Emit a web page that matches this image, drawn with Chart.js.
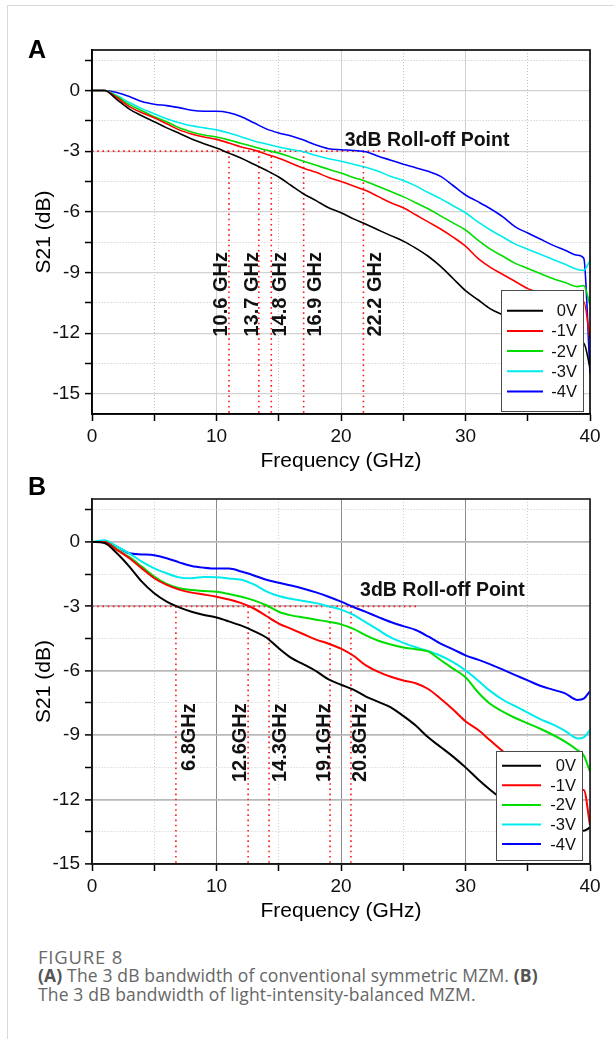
<!DOCTYPE html>
<html>
<head>
<meta charset="utf-8">
<title>Figure 8</title>
<script src="https://cdn.jsdelivr.net/npm/chart.js@4.4.1/dist/chart.umd.min.js"></script>
<style>
  html, body { margin: 0; padding: 0; background: #fff; }
  body { width: 614px; height: 1039px; position: relative; overflow: hidden; }
  .frame { position: absolute; left: 7px; top: 5px; width: 700px; height: 1100px;
           border-left: 1px solid #d9d9d9; border-top: 1px solid #d9d9d9; }
  .box { position: absolute; left: 0; width: 614px; }
  .panel { position: absolute; left: 28px; font: bold 25px/1 "Liberation Sans", Arial, sans-serif; color: #000; }
  .caption { position: absolute; left: 38px; top: 947px; font-family: "Open Sans", sans-serif;
             font-size: 17.5px; line-height: 19px; color: #666; letter-spacing: 0.15px; }
  .caption .fig { color: #6a6a6a; font-size: 18.5px; letter-spacing: 0.8px; }
  .caption b { color: #555; }
</style>
</head>
<body>
<div class="frame"></div>
<div class="box" style="top:0;height:480px"><canvas id="chartA" width="614" height="480"></canvas></div>
<div class="box" style="top:460px;height:470px"><canvas id="chartB" width="614" height="470"></canvas></div>
<div class="panel" style="top:37px">A</div>
<div class="panel" style="top:474px">B</div>
<div class="caption">
  <div class="fig">FIGURE 8</div>
  <div><b>(A)</b> The 3 dB bandwidth of conventional symmetric MZM. <b>(B)</b></div>
  <div>The 3 dB bandwidth of light-intensity-balanced MZM.</div>
</div>
<script>
// frequency axis (GHz), shared by every curve
const freq = [0, 1, 2, 3, 4, 5, 6, 7, 8, 9, 10, 11, 12, 13, 14, 15, 16, 17, 18, 19,
  20, 21, 22, 23, 24, 25, 26, 27, 28, 29, 30, 31, 32, 33, 34, 35, 36, 37, 38, 39, 39.5, 40];
const voltages = ["0V", "-1V", "-2V", "-3V", "-4V"];

// (A) conventional symmetric MZM, S21 in dB
const a0V = [0, 0, -0.45, -0.92, -1.25, -1.55, -1.85, -2.12, -2.4, -2.63, -2.85, -3.1, -3.35, -3.65, -3.95, -4.28, -4.7, -5.12, -5.45, -5.8,
  -6.05, -6.35, -6.62, -6.9, -7.18, -7.45, -7.8, -8.2, -8.7, -9.3, -9.9, -10.35, -10.8, -11.1, -11.4, -11.65, -11.9, -12.1, -12.3, -12.45, -12.5, -13.7];
const a1V = [0, 0, -0.35, -0.8, -1.1, -1.35, -1.65, -1.95, -2.15, -2.3, -2.42, -2.6, -2.8, -2.95, -3.15, -3.35, -3.6, -3.85, -4.05, -4.3,
  -4.5, -4.72, -4.95, -5.25, -5.55, -5.8, -6.15, -6.5, -6.85, -7.25, -7.7, -8.3, -8.75, -9.1, -9.45, -9.8, -10.0, -10.2, -10.35, -10.45, -10.45, -12.3];
const a2V = [0, 0, -0.3, -0.7, -1.0, -1.3, -1.55, -1.85, -2.05, -2.2, -2.3, -2.45, -2.62, -2.78, -2.95, -3.1, -3.3, -3.5, -3.7, -3.9,
  -4.08, -4.3, -4.5, -4.75, -5.0, -5.25, -5.55, -5.85, -6.2, -6.55, -6.9, -7.4, -7.85, -8.2, -8.55, -8.8, -9.05, -9.3, -9.5, -9.7, -9.65, -10.6];
const a3V = [0, 0, -0.25, -0.6, -0.9, -1.15, -1.4, -1.6, -1.75, -1.85, -1.95, -2.1, -2.3, -2.5, -2.65, -2.8, -2.92, -3.03, -3.22, -3.38,
  -3.5, -3.65, -3.8, -4.0, -4.25, -4.45, -4.72, -5.05, -5.35, -5.7, -6.05, -6.5, -6.9, -7.25, -7.6, -7.85, -8.1, -8.35, -8.6, -8.85, -8.9, -8.4];
const a4V = [0, 0, -0.1, -0.3, -0.55, -0.68, -0.75, -0.85, -0.98, -1.03, -1.03, -1.1, -1.3, -1.6, -1.9, -2.1, -2.25, -2.45, -2.7, -2.88,
  -2.93, -2.97, -3.03, -3.25, -3.45, -3.65, -3.82, -4.0, -4.25, -4.7, -5.17, -5.5, -5.85, -6.25, -6.75, -7.05, -7.35, -7.65, -7.9, -8.15, -8.3, -14.0];

// (B) light-intensity-balanced MZM, S21 in dB
const b0V = [0, -0.05, -0.53, -1.15, -1.85, -2.39, -2.78, -3.05, -3.25, -3.4, -3.52, -3.7, -3.9, -4.15, -4.45, -4.95, -5.4, -5.7, -6.02, -6.4,
  -6.65, -6.88, -7.2, -7.45, -7.7, -8.1, -8.55, -9.1, -9.55, -10.0, -10.5, -11.05, -11.55, -12.0, -12.4, -12.75, -13.0, -13.2, -13.35, -13.4, -13.45, -13.3];
const b1V = [0, 0, -0.37, -0.76, -1.23, -1.69, -2.0, -2.22, -2.36, -2.45, -2.55, -2.68, -2.85, -3.1, -3.45, -3.8, -4.05, -4.3, -4.55, -4.74,
  -4.97, -5.3, -5.75, -6.05, -6.28, -6.45, -6.58, -6.85, -7.3, -7.8, -8.35, -8.75, -9.25, -9.75, -10.25, -10.65, -10.95, -11.2, -11.4, -11.55, -11.55, -13.2];
const b2V = [0, 0, -0.34, -0.71, -1.15, -1.61, -1.96, -2.16, -2.24, -2.28, -2.32, -2.42, -2.55, -2.72, -2.95, -3.25, -3.42, -3.52, -3.62, -3.72,
  -3.84, -4.05, -4.35, -4.6, -4.78, -4.92, -5.0, -5.1, -5.5, -5.9, -6.3, -7.0, -7.55, -7.9, -8.2, -8.45, -8.7, -8.98, -9.3, -9.7, -9.95, -10.7];
const b3V = [0, 0.08, -0.22, -0.53, -0.92, -1.23, -1.46, -1.65, -1.69, -1.63, -1.65, -1.7, -1.76, -1.98, -2.3, -2.52, -2.65, -2.75, -2.85, -3.0,
  -3.15, -3.4, -3.75, -4.1, -4.45, -4.7, -4.9, -5.08, -5.3, -5.6, -5.98, -6.45, -6.95, -7.35, -7.65, -7.95, -8.25, -8.5, -8.8, -9.15, -9.1, -8.75];
const b4V = [0, 0, -0.22, -0.53, -0.58, -0.62, -0.76, -0.95, -1.12, -1.2, -1.24, -1.24, -1.38, -1.56, -1.76, -1.9, -2.03, -2.18, -2.35, -2.55,
  -2.78, -3.03, -3.26, -3.5, -3.73, -3.92, -4.1, -4.4, -4.74, -5.0, -5.28, -5.48, -5.7, -5.95, -6.2, -6.45, -6.7, -6.88, -7.05, -7.36, -7.3, -6.95];

// axis ticks
const xTicks = [0, 5, 10, 15, 20, 25, 30, 35, 40];
const yTicks = [1.5, 0, -1.5, -3, -4.5, -6, -7.5, -9, -10.5, -12, -13.5, -15];

// 3 dB roll-off markers: where the dotted lines stand, their labels, where the labels sit
const rollLevel = -3;
const rollLinesA = [11.0, 13.4, 14.4, 17.0, 21.8];
const rollTextA = ["10.6 GHz", "13.7 GHz", "14.8 GHz", "16.9 GHz", "22.2 GHz"];
const rollTextXA = [10.4, 12.86, 15.1, 17.98, 22.8];
const rollLinesB = [6.74, 12.54, 14.22, 19.12, 20.8];
const rollTextB = ["6.8GHz", "12.6GHz", "14.3GHz", "19.1GHz", "20.8GHz"];
const rollTextXB = [7.87, 11.89, 15.1, 18.71, 21.6];

const FONT = '"Liberation Sans", Arial, Helvetica, sans-serif';
const lineColors = ["#000000", "#ff0000", "#00dd00", "#00ecec", "#0000ff"];

// frame, red dotted 3 dB lines, labels and legend box
const rolloffPlugin = {
  id: "rolloff",
  beforeDatasetsDraw(chart, args, o) {
    const { ctx, scales: { x, y } } = chart;
    const y3 = y.getPixelForValue(rollLevel);
    ctx.save();
    ctx.strokeStyle = "#ff1a1a";
    ctx.lineWidth = 1.6;
    ctx.setLineDash([1.6, 3.6]);
    ctx.beginPath();
    ctx.moveTo(x.left, y3);
    ctx.lineTo(x.getPixelForValue(o.hEnd), y3);
    o.lines.forEach(f => {
      const px = x.getPixelForValue(f);
      ctx.moveTo(px, y3);
      ctx.lineTo(px, y.bottom);
    });
    ctx.stroke();
    ctx.restore();
  },
  afterDatasetsDraw(chart, args, o) {
    const { ctx, chartArea: ca, scales: { x, y } } = chart;
    ctx.save();
    // text labels of the roll-off frequencies
    ctx.fillStyle = "#111";
    ctx.font = "bold 20px " + FONT;
    ctx.textBaseline = "middle";
    o.texts.forEach((t, i) => {
      ctx.save();
      ctx.translate(x.getPixelForValue(o.textX[i]), y.getPixelForValue(o.textY));
      ctx.rotate(-Math.PI / 2);
      ctx.textAlign = o.textAlign;
      ctx.fillText(t, 0, 0);
      ctx.restore();
    });
    ctx.font = "bold 19.5px " + FONT;
    ctx.textAlign = "left";
    ctx.fillText("3dB Roll-off Point", x.getPixelForValue(o.title[0]), y.getPixelForValue(o.title[1]));

    // legend
    const lg = o.legend;
    ctx.fillStyle = "#fff";
    ctx.fillRect(lg.x, lg.y, lg.w, lg.h);
    ctx.strokeStyle = "#4a4a4a";
    ctx.lineWidth = 1;
    ctx.strokeRect(lg.x + 0.5, lg.y + 0.5, lg.w, lg.h);
    ctx.font = "16.5px " + FONT;
    ctx.textAlign = "right";
    chart.data.datasets.forEach((d, i) => {
      const ry = lg.y + lg.first + i * lg.row;
      ctx.strokeStyle = d.borderColor;
      ctx.lineWidth = 2;
      ctx.beginPath();
      ctx.moveTo(lg.l0, ry);
      ctx.lineTo(lg.l1, ry);
      ctx.stroke();
      ctx.fillStyle = "#111";
      ctx.fillText(d.label, lg.tx, ry + 1);
    });

    // box frame around the plot
    ctx.strokeStyle = o.frame;
    ctx.lineWidth = 1.6;
    ctx.strokeRect(ca.left, ca.top, ca.right - ca.left, ca.bottom - ca.top);
    ctx.restore();
  }
};

function panelChart(id, series, g) {
  const isMajorX = v => Math.abs(v % 10) < 1e-9;
  const isMajorY = v => Math.abs(v % 3) < 1e-9;
  return new Chart(document.getElementById(id).getContext("2d"), {
    type: "line",
    data: {
      datasets: series.map((s, i) => ({
        label: voltages[i],
        data: freq.map((f, j) => ({ x: f, y: s[j] })),
        borderColor: lineColors[i],
        borderWidth: g.lw,
        pointRadius: 0,
        cubicInterpolationMode: "monotone",
        fill: false
      }))
    },
    options: {
      responsive: false,
      animation: false,
      events: [],
      layout: { padding: { top: g.top, right: 24, left: 0, bottom: 0 } },
      plugins: { legend: { display: false }, tooltip: { enabled: false }, rolloff: g.roll },
      scales: {
        x: {
          type: "linear", min: 0, max: 40,
          afterBuildTicks: s => { s.ticks = xTicks.map(v => ({ value: v })); },
          afterFit: s => { s.height = 66; },
          ticks: { autoSkip: false, maxRotation: 0, padding: 4, color: "#111",
                   font: { family: FONT, size: 19 },
                   callback: v => isMajorX(v) ? String(v) : "" },
          grid: { color: c => isMajorX(c.tick.value) ? g.gx : g.gMinor,
                  lineWidth: c => isMajorX(c.tick.value) ? g.gxw : 1,
                  tickColor: "#000", tickLength: 7, tickWidth: 1.5 },
          border: { color: "#000", width: 1.6,
                    dash: c => (c.tick && !isMajorX(c.tick.value)) ? [1, 2] : [] },
          title: { display: true, text: "Frequency (GHz)", color: "#000",
                   font: { family: FONT, size: 21 }, padding: { top: 0, bottom: 6 } }
        },
        y: {
          min: g.yMin, max: 2,
          afterBuildTicks: s => { s.ticks = yTicks.map(v => ({ value: v })); },
          afterFit: s => { s.width = 92; },
          ticks: { autoSkip: false, padding: 5, color: "#111",
                   font: { family: FONT, size: 19 },
                   callback: v => isMajorY(v) ? String(v) : "" },
          grid: { color: c => isMajorY(c.tick.value) ? g.gy : g.gMinor,
                  lineWidth: c => isMajorY(c.tick.value) ? g.gyw : 1,
                  tickColor: "#000", tickLength: 7, tickWidth: 1.5 },
          border: { color: "#000", width: 1.6,
                    dash: c => (c.tick && !isMajorY(c.tick.value)) ? [1, 2] : [] },
          title: { display: true, text: "S21 (dB)", color: "#000",
                   font: { family: FONT, size: 21 }, padding: { top: 32, bottom: 0 } }
        }
      }
    },
    plugins: [rolloffPlugin]
  });
}

panelChart("chartA", [a0V, a1V, a2V, a3V, a4V], {
  top: 50, yMin: -16, lw: 1.6,
  gx: "#cfcfcf", gxw: 1, gy: "#d2d2d2", gyw: 1.2, gMinor: "#c4c4c4",
  roll: {
    lines: rollLinesA, hEnd: 23.8, texts: rollTextA, textX: rollTextXA,
    textY: -12.17, textAlign: "left", title: [20.3, -2.5], frame: "#000",
    legend: { x: 501, y: 290, w: 82, h: 121, first: 20.7, row: 20.2, l0: 507, l1: 543, tx: 577 }
  }
});

panelChart("chartB", [b0V, b1V, b2V, b3V, b4V], {
  top: 39, yMin: -15, lw: 2,
  gx: "#8a8a8a", gxw: 1, gy: "#b8b8b8", gyw: 1.8, gMinor: "#cdcdcd",
  roll: {
    lines: rollLinesB, hEnd: 26.3, texts: rollTextB, textX: rollTextXB,
    textY: -7.51, textAlign: "right", title: [21.53, -2.27], frame: "#1a1a1a",
    legend: { x: 496, y: 291, w: 86, h: 109, first: 14.7, row: 19.6, l0: 502, l1: 541, tx: 576 }
  }
});
</script>
</body>
</html>
